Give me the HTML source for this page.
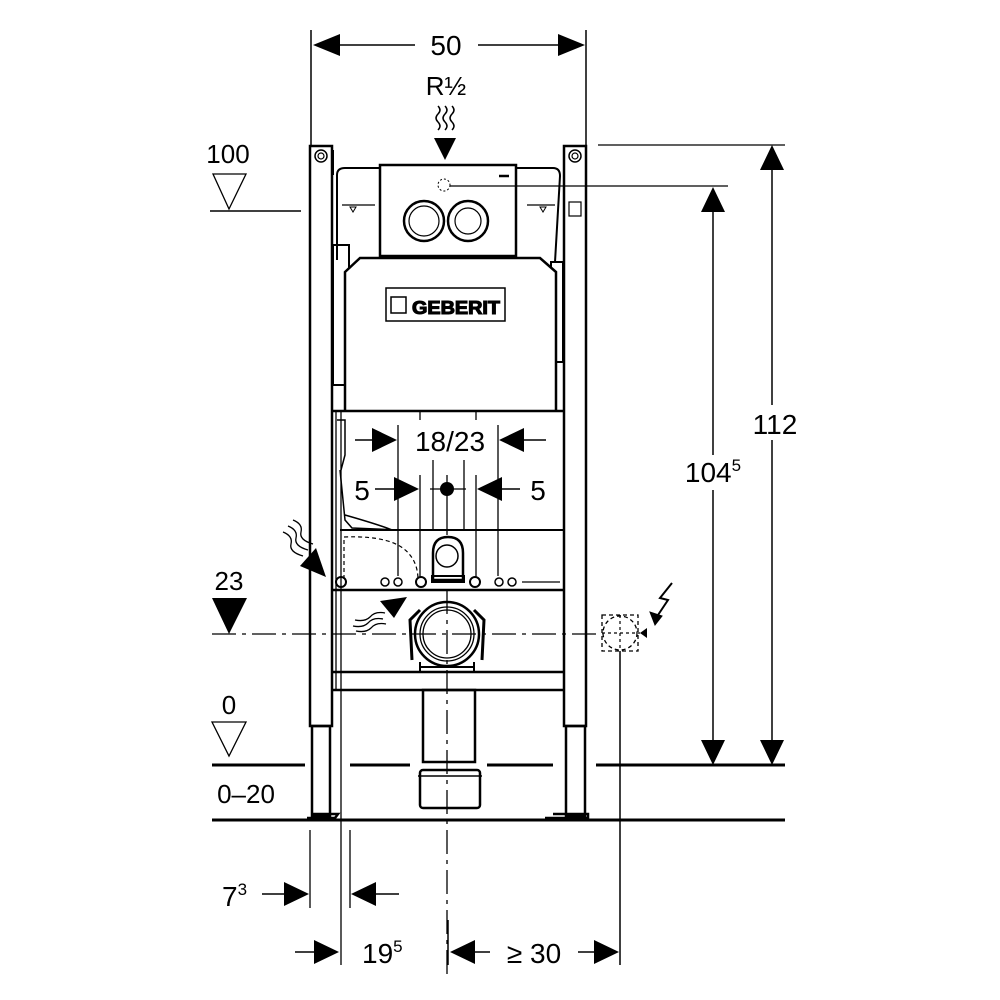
<!DOCTYPE html>
<html><head><meta charset="utf-8"><style>
html,body{margin:0;padding:0;background:#fff}
svg{display:block}
text{font-family:"Liberation Sans","DejaVu Sans",sans-serif;fill:#000}
</style></head><body>
<svg width="1000" height="1000" viewBox="0 0 1000 1000" xmlns="http://www.w3.org/2000/svg">
<g stroke="#000" fill="none">
<line x1="311" y1="30" x2="311" y2="145" stroke-width="1.5"/>
<line x1="586" y1="30" x2="586" y2="145" stroke-width="1.5"/>
<line x1="340" y1="45" x2="415" y2="45" stroke-width="1.5"/>
<line x1="478" y1="45" x2="560" y2="45" stroke-width="1.5"/>
<path d="M313,45 L340,34 L340,56z M585,45 L558,34 L558,56z" fill="#000" stroke="none"/>
<path d="M438,106 q4,4 0,8 q-4,4 0,8 q4,4 0,8 M445,106 q4,4 0,8 q-4,4 0,8 q4,4 0,8 M452,106 q4,4 0,8 q-4,4 0,8 q4,4 0,8" stroke-width="1.5"/>
<path d="M434,138 L456,138 L445,160z" fill="#000" stroke="none"/>

<rect x="310" y="146" width="22" height="580" stroke-width="2.5" fill="#fff"/>
<rect x="312" y="726" width="18" height="90" stroke-width="2.5"/>
<path d="M307,818 L335,818 L338,814 L312,814" stroke-width="2.5"/>
<circle cx="321" cy="156" r="6" stroke-width="1.5"/><circle cx="321" cy="156" r="3" stroke-width="1.2"/>
<rect x="564" y="146" width="22" height="580" stroke-width="2.5" fill="#fff"/>
<rect x="566" y="726" width="19" height="90" stroke-width="2.5"/>
<path d="M545,818 L588,818 L588,814 L553,814" stroke-width="2.5"/>
<circle cx="575" cy="156" r="6" stroke-width="1.5"/><circle cx="575" cy="156" r="3" stroke-width="1.2"/>
<path d="M333,150 L333,175 M586,150 L586,160" stroke-width="2"/>
<rect x="569" y="202" width="12" height="14" stroke-width="1.2"/>

<path d="M337,260 L337,175 Q337,168 345,168 L553,168 Q560,168 560,176 L555,262" stroke-width="2"/>
<path d="M342,205 L375,205 M527,205 L555,205" stroke-width="1.2"/>
<path d="M350,207 l6,0 l-3,5z M540,207 l6,0 l-3,5z" stroke-width="1"/>
<rect x="333" y="245" width="16" height="140" stroke-width="2"/>
<rect x="551" y="262" width="12" height="100" stroke-width="2"/>
<rect x="380" y="165" width="136" height="91" stroke-width="2.5" fill="#fff"/>
<circle cx="424" cy="221" r="20" stroke-width="2.5"/><circle cx="424" cy="221" r="15" stroke-width="1.2"/>
<circle cx="468" cy="221" r="20" stroke-width="2.5"/><circle cx="468" cy="221" r="13" stroke-width="1.2"/>
<circle cx="444" cy="185" r="6" stroke-width="1" stroke-dasharray="2,2"/>
<line x1="450" y1="186" x2="728" y2="186" stroke-width="1.3"/>
<line x1="499" y1="176" x2="509" y2="176" stroke-width="2.5"/>
<path d="M345,410 L345,272 L360,258 L540,258 L556,272 L556,410" stroke-width="2.5" fill="#fff"/>
<rect x="386" y="288" width="119" height="33" stroke-width="1.5"/>
<rect x="391" y="297" width="15" height="16" stroke-width="1.5"/>
</g>
<text x="456" y="314" font-size="18" font-weight="bold" text-anchor="middle" fill="#fff" stroke="#000" stroke-width="1.1" textLength="88" lengthAdjust="spacingAndGlyphs">GEBERIT</text>
<g stroke="#000" fill="none">
<line x1="333" y1="411" x2="564" y2="411" stroke-width="2.5"/>
<line x1="340" y1="530" x2="564" y2="530" stroke-width="2"/>
<line x1="333" y1="590" x2="564" y2="590" stroke-width="2.5"/>
<line x1="333" y1="672" x2="564" y2="672" stroke-width="2.5"/>
<line x1="333" y1="690" x2="564" y2="690" stroke-width="2.5"/>
<line x1="341" y1="411" x2="341" y2="965" stroke-width="1.3"/>
<line x1="336" y1="411" x2="336" y2="690" stroke-width="1.3"/>
<path d="M337,420 L345,420 L345,455 L341,470" stroke-width="1.5"/>
<path d="M340,470 L345,520 L352,528 L400,530 M345,515 Q380,525 392,530" stroke-width="1.5"/>
<path d="M344,540 L344,582 M344,537 Q395,535 410,555 Q418,565 418,580" stroke-width="1.2" stroke-dasharray="4,3"/>
<circle cx="341" cy="582" r="5" stroke-width="2"/>
<circle cx="385" cy="582" r="4" stroke-width="1.5"/><circle cx="398" cy="582" r="4" stroke-width="1.5"/>
<circle cx="421" cy="582" r="5" stroke-width="2"/>
<circle cx="475" cy="582" r="5" stroke-width="2"/>
<circle cx="499" cy="582" r="4" stroke-width="1.5"/><circle cx="512" cy="582" r="4" stroke-width="1.5"/>
<line x1="522" y1="582" x2="560" y2="582" stroke-width="1.2"/>
<path d="M433,580 L433,553 Q433,537 448,537 Q463,537 463,553 L463,580 Z" stroke-width="2.5"/>
<circle cx="447" cy="556" r="11" stroke-width="1.5"/>
<rect x="432" y="576" width="32" height="6" stroke-width="2"/>
<line x1="398" y1="425" x2="398" y2="576" stroke-width="1.3"/>
<line x1="498" y1="425" x2="498" y2="576" stroke-width="1.3"/>
<line x1="420" y1="475" x2="420" y2="578" stroke-width="1.3"/>
<line x1="476" y1="475" x2="476" y2="578" stroke-width="1.3"/>
<line x1="433" y1="460" x2="433" y2="530" stroke-width="1.3"/>
<line x1="464" y1="460" x2="464" y2="530" stroke-width="1.3"/>
<line x1="420" y1="411" x2="420" y2="420" stroke-width="1.3"/>
<line x1="476" y1="411" x2="476" y2="420" stroke-width="1.3"/>
<line x1="430" y1="489" x2="466" y2="489" stroke-width="1.3"/>
<line x1="447" y1="475" x2="447" y2="535" stroke-width="1.3"/>
<line x1="355" y1="440" x2="375" y2="440" stroke-width="1.5"/>
<path d="M397,440 L372,428 L372,452z" fill="#000" stroke="none"/>
<line x1="522" y1="440" x2="546" y2="440" stroke-width="1.5"/>
<path d="M499,440 L524,428 L524,452z" fill="#000" stroke="none"/>
<line x1="375" y1="489" x2="395" y2="489" stroke-width="1.5"/>
<path d="M419,489 L394,477 L394,501z" fill="#000" stroke="none"/>
<line x1="500" y1="489" x2="520" y2="489" stroke-width="1.5"/>
<path d="M477,489 L502,477 L502,501z" fill="#000" stroke="none"/>
<circle cx="447" cy="489" r="7" fill="#000" stroke="none"/>
<path d="M283,532 q10,4 8,12 q-2,8 12,12 M288,526 q10,4 8,12 q-2,8 12,12 M293,520 q10,4 8,12 q-2,8 12,12" stroke-width="1.3"/>
<path d="M326,577 L300,566 L316,548z" fill="#000" stroke="none"/>
<path d="M355,620 q10,2 15,-3 q5,-6 15,-4 M353,626 q10,2 15,-3 q5,-6 15,-4 M356,631 q10,2 15,-3 q5,-6 15,-4" stroke-width="1.3"/>
<path d="M407,597 L380,601 L394,618z" fill="#000" stroke="none"/>
<path d="M412,660 L410,620 L420,610 M482,660 L484,620 L474,610" stroke-width="3"/>
<circle cx="447" cy="634" r="32" stroke-width="2.5" fill="#fff"/>
<circle cx="447" cy="634" r="27" stroke-width="1.3"/>
<circle cx="447" cy="634" r="24" stroke-width="1.3"/>
<path d="M420,662 L420,672 M474,662 L474,672 M420,667 L474,667" stroke-width="2"/>
<line x1="212" y1="634" x2="600" y2="634" stroke-width="1.3" stroke-dasharray="24,6,4,6"/>
<line x1="447" y1="590" x2="447" y2="980" stroke-width="1.3" stroke-dasharray="24,6,4,6"/>
<rect x="423" y="690" width="52" height="72" stroke-width="2.5" fill="none"/>
<rect x="420" y="770" width="60" height="38" rx="3" stroke-width="2.5"/>
<line x1="418" y1="776" x2="482" y2="776" stroke-width="1.5"/>
<path d="M212,765 L305,765 M350,765 L410,765 M487,765 L553,765 M596,765 L785,765" stroke-width="3"/>
<line x1="212" y1="820" x2="785" y2="820" stroke-width="3"/>
<path d="M213,174 L246,174 L229,209z" stroke-width="1.3"/>
<line x1="210" y1="211" x2="301" y2="211" stroke-width="1.5"/>
<path d="M212,598 L247,598 L229,634z" fill="#000" stroke="none"/>
<path d="M212,722 L246,722 L229,756z" stroke-width="1.3"/>
<line x1="598" y1="145" x2="785" y2="145" stroke-width="1.3"/>
<line x1="713" y1="205" x2="713" y2="745" stroke-width="1.5"/>
<path d="M713,187 L701,212 L725,212z M713,765 L701,740 L725,740z" fill="#000" stroke="none"/>
<line x1="772" y1="165" x2="772" y2="745" stroke-width="1.5"/>
<path d="M772,145 L760,170 L784,170z M772,765 L760,740 L784,740z" fill="#000" stroke="none"/>
<circle cx="620" cy="633" r="17" stroke-width="1.3" stroke-dasharray="4,3"/>
<rect x="602" y="615" width="36" height="36" stroke-width="1.3" stroke-dasharray="4,3"/>
<path d="M602,633 L640,633 M620,615 L620,651" stroke-width="1.2" stroke-dasharray="3,3"/>
<line x1="620" y1="651" x2="620" y2="965" stroke-width="1.5"/>
<path d="M672,583 L660,598 L668,600 L658,615" stroke-width="2"/>
<path d="M655,625 L650,612 L662,616z" fill="#000" stroke="#000"/>
<path d="M640,633 L647,628 L647,638z" fill="#000" stroke="none"/>
<line x1="310" y1="830" x2="310" y2="908" stroke-width="1.3"/>
<line x1="350" y1="830" x2="350" y2="908" stroke-width="1.3"/>
<line x1="262" y1="894" x2="285" y2="894" stroke-width="1.5"/>
<path d="M309,894 L284,882 L284,906z" fill="#000" stroke="none"/>
<line x1="374" y1="894" x2="399" y2="894" stroke-width="1.5"/>
<path d="M351,894 L376,882 L376,906z" fill="#000" stroke="none"/>
<line x1="295" y1="952" x2="315" y2="952" stroke-width="1.5"/>
<path d="M339,952 L314,940 L314,964z" fill="#000" stroke="none"/>
<line x1="448" y1="920" x2="448" y2="965" stroke-width="1.5"/>
<path d="M450,952 L475,940 L475,964z" fill="#000" stroke="none"/>
<line x1="475" y1="952" x2="490" y2="952" stroke-width="1.5"/>
<line x1="578" y1="952" x2="596" y2="952" stroke-width="1.5"/>
<path d="M619,952 L594,940 L594,964z" fill="#000" stroke="none"/>
</g>
<text x="446" y="55" font-size="28" text-anchor="middle">50</text>
<text x="446" y="95" font-size="26" text-anchor="middle">R½</text>
<text x="228" y="163" font-size="26" text-anchor="middle">100</text>
<text x="229" y="590" font-size="26" text-anchor="middle">23</text>
<text x="229" y="714" font-size="26" text-anchor="middle">0</text>
<text x="246" y="803" font-size="26" text-anchor="middle">0–20</text>
<text x="450" y="451" font-size="28" text-anchor="middle">18/23</text>
<text x="362" y="500" font-size="28" text-anchor="middle">5</text>
<text x="538" y="500" font-size="28" text-anchor="middle">5</text>
<rect x="680" y="455" width="66" height="35" fill="#fff"/>
<text x="713" y="482" font-size="28" text-anchor="middle">104<tspan font-size="17" dy="-11">5</tspan></text>
<rect x="748" y="405" width="56" height="35" fill="#fff"/>
<text x="775" y="434" font-size="28" text-anchor="middle">112</text>
<text x="222" y="906" font-size="28">7<tspan font-size="17" dy="-11">3</tspan></text>
<text x="362" y="963" font-size="28">19<tspan font-size="17" dy="-11">5</tspan></text>
<text x="534" y="963" font-size="28" text-anchor="middle">≥ 30</text>
</svg>
</body></html>
